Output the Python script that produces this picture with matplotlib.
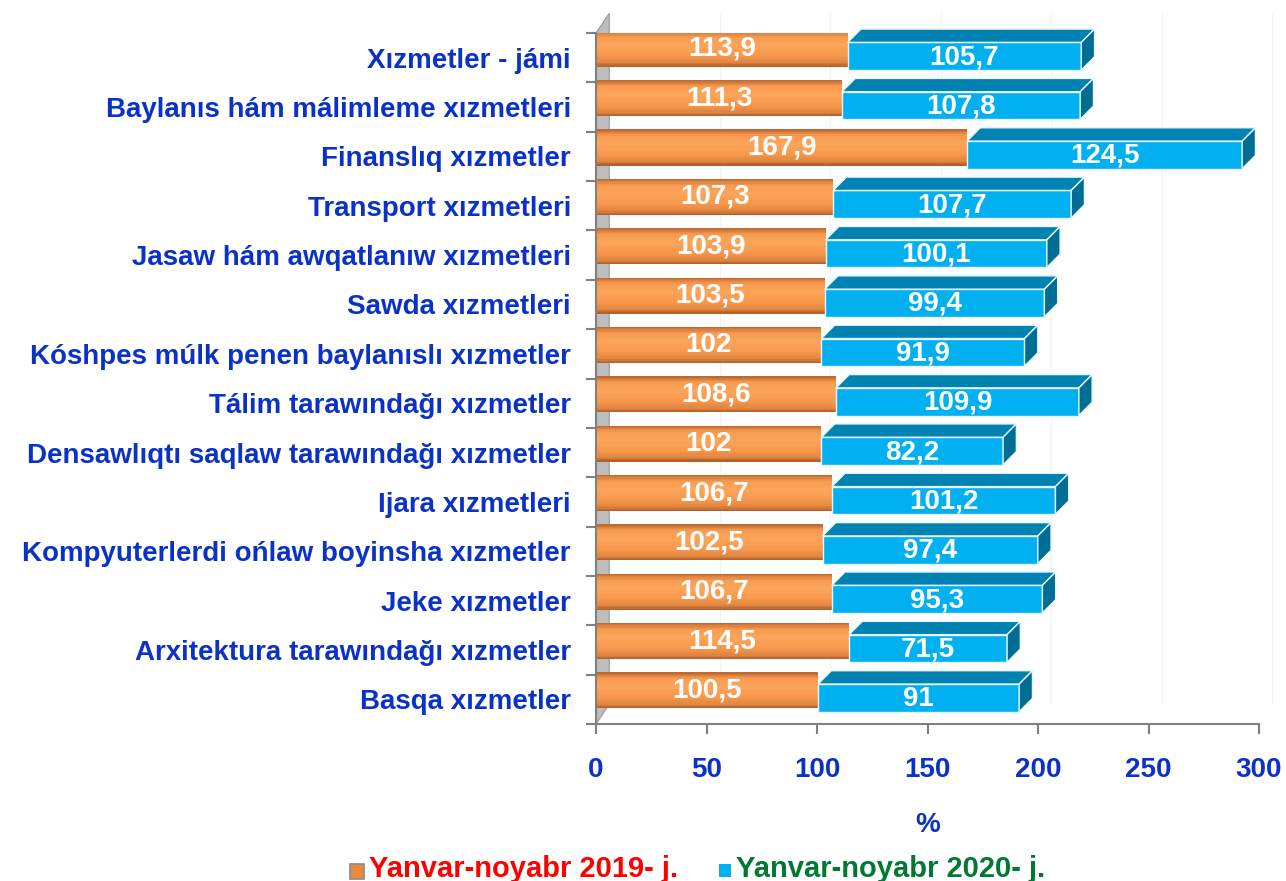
import numpy as np
import matplotlib.pyplot as plt
from matplotlib.patches import Polygon
from matplotlib.colors import LinearSegmentedColormap

# categories from bottom to top
categories = [
    "Basqa xızmetler",
    "Arxitektura tarawındağı xızmetler",
    "Jeke xızmetler",
    "Kompyuterlerdi ońlaw boyinsha xızmetler",
    "Ijara xızmetleri",
    "Densawlıqtı saqlaw tarawındağı xızmetler",
    "Tálim tarawındağı xızmetler",
    "Kóshpes múlk penen baylanıslı xızmetler",
    "Sawda xızmetleri",
    "Jasaw hám awqatlanıw xızmetleri",
    "Transport xızmetleri",
    "Finanslıq xızmetler",
    "Baylanıs hám málimleme xızmetleri",
    "Xızmetler - jámi",
]
val_2019 = [100.5, 114.5, 106.7, 102.5, 106.7, 102, 108.6, 102, 103.5, 103.9, 107.3, 167.9, 111.3, 113.9]
val_2020 = [91, 71.5, 95.3, 97.4, 101.2, 82.2, 109.9, 91.9, 99.4, 100.1, 107.7, 124.5, 107.8, 105.7]
lab_2019 = ["100,5", "114,5", "106,7", "102,5", "106,7", "102", "108,6", "102", "103,5", "103,9", "107,3", "167,9", "111,3", "113,9"]
lab_2020 = ["91", "71,5", "95,3", "97,4", "101,2", "82,2", "109,9", "91,9", "99,4", "100,1", "107,7", "124,5", "107,8", "105,7"]
xticks = [0, 50, 100, 150, 200, 250, 300]

blue_txt = "#0b32c8"
font = "Liberation Sans"
plt.rcParams['font.family'] = [font, 'DejaVu Sans']

fig = plt.figure(figsize=(12.86, 8.81), dpi=100)
ax = fig.add_axes([596 / 1286, 157 / 881, 663 / 1286, 691 / 881])

y = np.arange(len(categories))
ymin, ymax = -0.5, 13.5
ax.set_xlim(0, 300)
ax.set_ylim(ymin, ymax)

# left wall of the 3d frame
wdx, wdy = 6.0, 0.4
ax.add_patch(Polygon([(0, ymin), (wdx, ymin + wdy), (wdx, ymax + wdy), (0, ymax)],
                     closed=True, facecolor="#bdbdbd", edgecolor="#9a9a9a", lw=0.8,
                     clip_on=False, zorder=1))
# faint back grid lines
for t in xticks[1:]:
    ax.plot([t + wdx, t + wdx], [ymin + wdy, ymax + wdy], color="#f2f2f2", lw=0.8,
            zorder=0, clip_on=False)

# orange "cylinder" bars drawn as shaded strips
or_bot, or_top = -0.185, 0.545
n = 30
shade = LinearSegmentedColormap.from_list(
    "or", [(0, "#b4602a"), (0.1, "#df8540"), (0.3, "#f7984c"), (0.6, "#fca55a"),
           (0.84, "#f79b50"), (0.94, "#dc8041"), (1, "#c06a32")])
hs = (or_top - or_bot) / n
for k in range(n):
    off = or_bot + (k + 0.5) * hs
    ax.barh(y + off, val_2019, height=hs * 1.05, color=shade(k / (n - 1)),
            edgecolor="none", zorder=3)

# blue box bars: front, top and side faces
fr_bot, fr_top = -0.25, 0.31
dx, dy = 6.0, 0.27
ax.barh(y + (fr_bot + fr_top) / 2, val_2020, left=val_2019, height=fr_top - fr_bot,
        color="#00b0f0", edgecolor="#e8f6fc", lw=1.0, zorder=4)
for yi, a, b in zip(y, val_2019, val_2020):
    x0, x1 = a, a + b
    top = [(x0, yi + fr_top), (x0 + dx, yi + fr_top + dy), (x1 + dx, yi + fr_top + dy), (x1, yi + fr_top)]
    side = [(x1, yi + fr_bot), (x1 + dx, yi + fr_bot + dy), (x1 + dx, yi + fr_top + dy), (x1, yi + fr_top)]
    ax.add_patch(Polygon(top, closed=True, facecolor="#0083b3", edgecolor="#e8f6fc", lw=1.0,
                         zorder=4, clip_on=False))
    ax.add_patch(Polygon(side, closed=True, facecolor="#006d95", edgecolor="#e8f6fc", lw=1.0,
                         zorder=4, clip_on=False))

# value labels
for yi, a, b, la, lb in zip(y, val_2019, val_2020, lab_2019, lab_2020):
    ax.text(a / 2, yi + (or_bot + or_top) / 2, la, ha="center", va="center", color="white",
            fontsize=20, fontweight="bold", zorder=6)
    ax.text(a + b / 2, yi + (fr_bot + fr_top) / 2 - 0.02, lb, ha="center", va="center",
            color="white", fontsize=20, fontweight="bold", zorder=6)

# axes styling
for s in ["top", "right"]:
    ax.spines[s].set_visible(False)
for s in ["left", "bottom"]:
    ax.spines[s].set_color("#808080")
    ax.spines[s].set_linewidth(1.5)
    ax.spines[s].set_zorder(5)

ax.set_xticks(xticks)
ax.set_xticklabels([str(t) for t in xticks], color=blue_txt, fontsize=20, fontweight="bold")
ax.tick_params(axis="x", length=7, width=1.5, color="#808080", pad=17)

ax.set_yticks(y)
ax.set_yticklabels(categories, color=blue_txt, fontsize=20, fontweight="bold")
ax.tick_params(axis="y", length=0, pad=18)
ax.set_yticks(np.arange(-0.5, len(categories), 1.0), minor=True)
ax.tick_params(axis="y", which="minor", length=7, width=1.5, color="#808080")

ax.set_xlabel("%", color=blue_txt, fontsize=20, fontweight="bold", labelpad=21)

# legend at the bottom
fig.patches.append(plt.Rectangle((350 / 1286, 1 - 879 / 881), 14 / 1286, 15 / 881,
                                 transform=fig.transFigure, facecolor="#e98a3f",
                                 edgecolor="#8a8a8a", lw=1.2))
fig.text(369 / 1286, 1 - 869 / 881, "Yanvar-noyabr 2019- j.", color="#ff0000",
         fontsize=21, fontweight="bold", va="center", ha="left")
fig.patches.append(plt.Rectangle((719 / 1286, 1 - 877 / 881), 12 / 1286, 13 / 881,
                                 transform=fig.transFigure, facecolor="#00b0f0",
                                 edgecolor="none"))
fig.text(736 / 1286, 1 - 869 / 881, "Yanvar-noyabr 2020- j.", color="#007a33",
         fontsize=21, fontweight="bold", va="center", ha="left")

fig.savefig("out.png", dpi=100)
